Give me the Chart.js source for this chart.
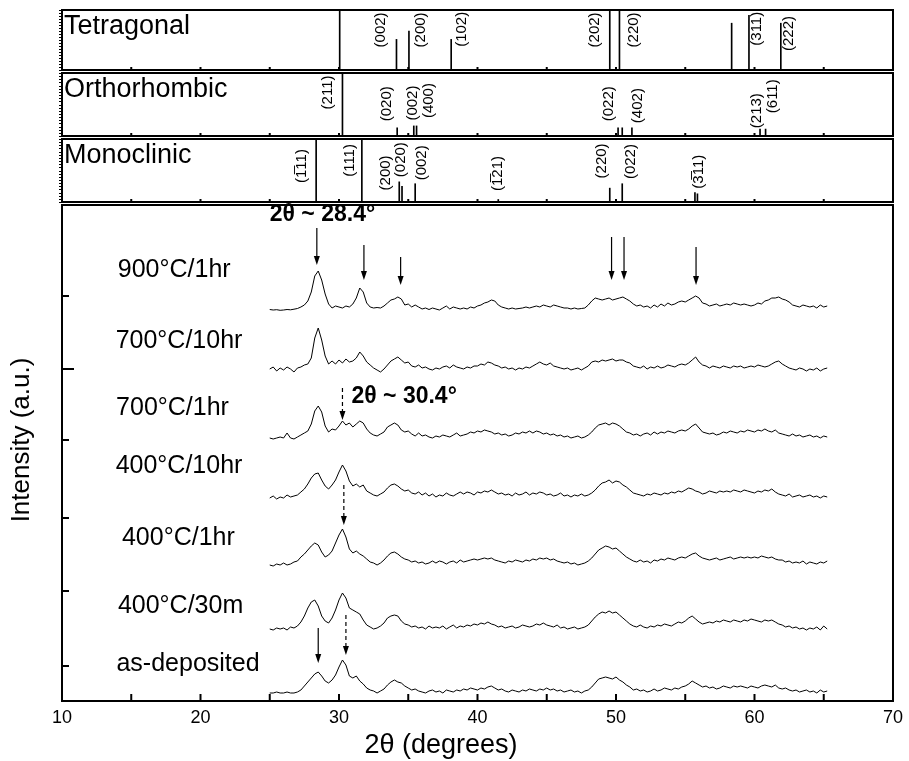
<!DOCTYPE html>
<html>
<head>
<meta charset="utf-8">
<script src="https://cdn.jsdelivr.net/npm/chart.js@4.4.1/dist/chart.umd.min.js"></script>
<style>
  html, body { margin: 0; padding: 0; background: #fff; }
  #wrap { position: relative; width: 909px; height: 761px; }
  #wrap canvas { position: absolute; left: 0; top: 0; }
</style>
</head>
<body>
<div id="wrap">
  <canvas id="tetra" width="909" height="761"></canvas>
  <canvas id="ortho" width="909" height="761"></canvas>
  <canvas id="mono" width="909" height="761"></canvas>
  <canvas id="xrd" width="909" height="761"></canvas>
</div>
<script>
  "use strict";

  // ---- reference patterns (2theta positions, relative intensity %) ----
  var tetraPos = [30.05, 34.15, 35.05, 38.1, 49.55, 50.25, 58.35, 59.6, 61.9];
  var tetraInt = [100, 51, 65, 51, 100, 98, 78, 91, 78];
  var tetraLabels = ["(002)", "(200)", "(102)", "(202)", "(220)", "(311)", "(222)"];
  var tetraLabelAt = [33.05, 35.9, 38.9, 48.5, 51.3, 60.2, 62.5];
  var tetraLabelTop = [96, 96, 97, 96, 96, 97, 90];

  var orthoPos = [30.25, 34.2, 35.4, 35.6, 50.15, 50.45, 51.15, 60.4, 60.8];
  var orthoInt = [100, 13, 16, 16, 13, 13, 13, 11, 11];
  var orthoLabels = ["(211)", "(020)", "(002)", "(400)", "(022)", "(402)", "(213)", "(611)"];
  var orthoLabelAt = [29.2, 33.45, 35.35, 36.5, 49.45, 51.6, 60.2, 61.35];
  var orthoLabelTop = [96, 79, 80, 84, 79, 76, 68, 90];

  var monoPos = [28.35, 31.65, 34.35, 34.55, 35.5, 41.5, 49.55, 50.45, 55.7, 55.88];
  var monoInt = [100, 100, 32, 25, 29, 4, 22, 29, 15, 13];
  var monoLabels = ["(1\u030511)", "(111)", "(200)", "(020)", "(002)", "(1\u030521)", "(220)", "(022)", "(3\u030511)"];
  var monoLabelAt = [27.3, 30.8, 33.4, 34.45, 35.95, 41.45, 49.0, 51.05, 56.0];
  var monoLabelTop = [84, 92, 74, 95, 90, 73, 93, 92, 75];

  // ---- measured XRD patterns, 25.00 .. 65.25 deg in 0.25 deg steps ----
  var scanStart = 25, scanStep = 0.25;
  var sampleNames = ["900\u00b0C/1hr", "700\u00b0C/10hr", "700\u00b0C/1hr", "400\u00b0C/10hr", "400\u00b0C/1hr", "400\u00b0C/30m", "as-deposited"];
  var sampleOffsets = [391, 331, 263, 203, 136, 71, 8];

  var int900c1h = [
    0.5, 0, 0.3, -0.3,  0, 0.5, 0.2, 0.8,  1.5, 3, 5, 9,  18, 34, 39, 30,
    16, 6, 2, 4,  3, 2, 4, 3,  6, 12, 22, 18,  7, 3, 2, 2.5,
    2, 4, 7, 10,  11, 13, 11, 5,  6, 3, 5, 3,  1, 2, 0.5, 2,
    1, 0, 2, 4,  1, 3, 2, 1,  2, 1, 3, 2,  4, 5, 7, 8,
    10, 9, 5, 3,  2, 1, 2, 1,  1.5, 2, 3, 2,  3, 4, 3, 5,
    4, 3, 5, 4,  3, 2, 2, 1,  2, 1, 1.5, 2,  5, 9, 12, 11,
    10, 11, 12, 10,  11, 12, 13, 11,  9, 6, 4, 5,  3, 4, 2, 5,
    3, 6, 4, 7,  5, 6, 8, 9,  8, 10, 12, 14,  12, 7, 6, 4,
    5, 6, 4, 5,  6, 5, 7, 6,  5, 6, 5, 4,  5, 7, 6, 9,
    10, 12, 12, 13,  11, 10, 8, 5,  4, 3, 5, 4,  3, 4, 2, 5,
    3, 4
  ];
  var int700c10h = [
    1, 3, -1, 2,  0, 3, 1, -2,  2, 3, 5, 6,  12, 32, 42, 30,
    14, 6, 9, 6,  10, 7, 11, 8,  9, 12, 18, 14,  8, 5, 2, 0,
    -2, 1, 5, 9,  11, 13, 10, 7,  8, 4, 3, 5,  2, 3, 1, 0,
    2, 1, 3, 4,  2, 5, 3, 2,  1, 3, 2, 4,  4, 6, 5, 8,
    7, 5, 4, 2,  3, 1, 2, 0,  2, 1, 3, 2,  4, 6, 8, 6,
    5, 7, 4, 3,  2, 1, 2, 0,  1, 2, 0, 2,  4, 8, 9, 8,
    10, 9, 10, 11,  9, 10, 10, 8,  7, 4, 3, 2,  4, 1, 3, 2,
    4, 2, 3, 5,  4, 3, 5, 6,  5, 7, 10, 13,  8, 5, 4, 2,
    4, 3, 2, 4,  3, 2, 4, 3,  4, 2, 3, 4,  3, 5, 4, 3,
    4, 6, 8, 9,  6, 4, 2, 1,  0, 2, 1, -1,  1, 0, 2, -1,
    1, 2
  ];
  var int700c1h = [
    0, -1, 0, 1,  0, 5, 0, -1,  1, 3, 5, 7,  14, 27, 32, 26,
    12, 6, 9, 8,  12, 17, 13, 15,  11, 14, 17, 15,  9, 5, 3, 2,
    4, 6, 11, 13,  15, 13, 8, 6,  7, 4, 2, 5,  2, 3, 1, 0,
    2, 1, 3, 2,  1, 3, 5, 2,  3, 4, 6, 5,  7, 6, 8, 7,
    6, 4, 5, 3,  4, 2, 3, 5,  4, 6, 5, 7,  5, 7, 6, 4,
    5, 3, 4, 2,  3, 1, 2, 0,  1, 2, 0, 1,  3, 6, 10, 13,
    14, 15, 13, 15,  14, 12, 9, 6,  5, 3, 4, 2,  4, 5, 3, 6,
    4, 6, 5, 7,  6, 5, 7, 8,  7, 9, 12, 14,  10, 6, 5, 4,
    5, 3, 4, 6,  5, 7, 6, 5,  7, 6, 8, 7,  6, 8, 7, 9,
    7, 6, 8, 5,  4, 3, 2, 4,  2, 3, 1, 2,  3, 1, 2, 0,
    2, 1
  ];
  var int400c10h = [
    0, 2, -1, 1,  0, 3, 1, 2,  3, 6, 9, 14,  20, 24, 25, 18,
    12, 9, 13, 18,  26, 33, 27, 17,  12, 14, 11, 13,  7, 5, 3, 2,
    4, 6, 10, 13,  14, 12, 9, 7,  8, 5, 4, 6,  3, 5, 2, 4,
    1, 3, 2, 5,  3, 2, 4, 6,  4, 6, 5, 3,  6, 5, 7, 6,
    8, 6, 4, 5,  3, 4, 2, 5,  3, 4, 6, 3,  5, 4, 6, 5,
    3, 4, 2, 3,  5, 2, 3, 1,  3, 2, 4, 2,  3, 5, 8, 12,
    15, 16, 18, 15,  17, 16, 13, 11,  8, 5, 4, 3,  2, 4, 3, 5,
    4, 3, 5, 4,  6, 5, 7, 6,  8, 10, 9, 7,  6, 4, 5, 7,
    6, 5, 7, 6,  7, 6, 8, 7,  6, 8, 7, 6,  5, 7, 6, 8,
    7, 9, 6, 4,  3, 2, 4, 1,  2, 3, 1, 2,  3, 1, 2, 0,
    2, 1
  ];
  var int400c1h = [
    0, -1, 1, 0,  2, 0, 1, 3,  4, 8, 11, 15,  19, 22, 20, 13,
    8, 10, 14, 22,  30, 36, 28, 16,  12, 14, 11, 9,  6, 3, 2, 0,
    2, 5, 9, 12,  13, 11, 8, 6,  5, 3, 4, 2,  3, 1, 2, 4,
    2, 4, 3, 1,  3, 4, 2, 5,  3, 4, 5, 6,  5, 6, 7, 6,
    7, 5, 4, 3,  2, 4, 3, 5,  4, 3, 5, 4,  6, 5, 7, 6,
    7, 5, 6, 4,  3, 2, 3, 1,  2, 0, 1, 2,  4, 7, 11, 15,
    17, 19, 18, 16,  17, 14, 11, 8,  6, 4, 3, 5,  3, 4, 2, 5,
    4, 6, 5, 7,  6, 5, 7, 8,  7, 9, 11, 12,  9, 7, 6, 5,
    6, 7, 5, 6,  7, 8, 6, 7,  8, 7, 8, 7,  8, 7, 9, 8,
    7, 8, 6, 5,  5, 3, 4, 2,  3, 2, 4, 1,  3, 2, 1, 3,
    2, 4
  ];
  var int400c30m = [
    1, 0, 2, 1,  2, 0, 3, 2,  4, 8, 14, 22,  28, 30, 24, 14,
    9, 7, 12, 20,  30, 37, 32, 22,  20, 18, 16, 10,  5, 3, 1, 2,
    4, 7, 12, 14,  15, 14, 9, 6,  5, 3, 4, 2,  3, 1, 4, 2,
    3, 2, 4, 1,  3, 5, 2, 4,  3, 5, 4, 6,  5, 7, 6, 8,
    6, 5, 3, 4,  2, 3, 4, 2,  3, 5, 4, 3,  4, 6, 5, 7,
    5, 4, 3, 5,  2, 3, 1, 2,  3, 1, 2, 3,  5, 9, 13, 16,
    18, 17, 19, 17,  18, 15, 12, 9,  6, 4, 3, 5,  3, 2, 4, 3,
    5, 4, 6, 5,  4, 6, 8, 7,  9, 12, 14, 11,  8, 6, 7, 8,
    7, 9, 8, 10,  9, 8, 10, 9,  8, 10, 9, 11,  10, 9, 8, 10,
    9, 10, 8, 6,  5, 3, 4, 2,  3, 1, 2, 0,  2, 1, 3, 0,
    4, 1
  ];
  var intAsDep = [
    0, 0, 1, 0,  0, 1, 0, 0,  1, 3, 7, 11,  15, 19, 21, 17,
    12, 10, 13, 18,  26, 33, 28, 17,  15, 17, 12, 9,  5, 3, 2, 0,
    2, 4, 8, 11,  13, 11, 10, 7,  5, 3, 4, 2,  1, 0, 2, 3,
    1, 2, 0, 3,  2, 1, 3, 2,  4, 3, 5, 4,  3, 5, 4, 6,
    7, 5, 3, 4,  2, 1, 3, 2,  1, 3, 2, 4,  3, 2, 4, 3,
    5, 3, 4, 2,  3, 1, 2, 3,  1, 2, 0, 2,  3, 6, 10, 14,
    15, 16, 15, 14,  16, 13, 11, 8,  6, 3, 4, 2,  3, 1, 2, 4,
    2, 3, 5, 4,  3, 5, 4, 6,  7, 9, 12, 10,  8, 6, 7, 5,
    6, 4, 5, 7,  6, 5, 7, 6,  7, 6, 5, 7,  6, 5, 7, 8,
    7, 6, 8, 5,  4, 5, 3, 2,  3, 1, 2, 3,  1, 2, 0, 3,
    1, 2
  ];
  var sampleSeries = [int900c1h, int700c10h, int700c1h, int400c10h, int400c1h, int400c30m, intAsDep];

  // ---- annotations: peak markers (2theta, from / to in a.u.) ----
  var arrowAt = [28.4, 31.8, 34.45, 49.68, 50.58, 55.78, 30.25, 30.35, 28.5, 30.5];
  var arrowFrom = [473, 456, 444, 464, 464, 454, 313, 216, 73, 86];
  var arrowTo = [436, 421, 416, 421, 421, 416, 281, 176, 38, 46];
  var arrowDashed = [false, false, false, false, false, false, true, true, false, true];
  var peakNotes = ["2\u03b8 ~ 28.4\u00b0", "2\u03b8 ~ 30.4\u00b0"];

  // layout of the text (data coordinates)
  var notePos = [[25.0, 486], [30.9, 304]];
  var nameX = [18.1, 18.45, 17.98, 18.45, 18.4, 18.56, 19.1];
  var nameY = [431, 360, 293, 235, 163, 95, 37];
  var yTickVals = [405, 332, 261, 183, 110, 35];

  var FONT = "'Liberation Sans', Arial, sans-serif";
  var W = 909, H = 761, LEFT = 62, RIGHT = 893;

  function panelDeco(name, labels, labelAt, labelTop) {
    return {
      id: 'panelDeco',
      afterDraw: function (chart) {
        var ctx = chart.ctx, a = chart.chartArea, xs = chart.scales.x, ys = chart.scales.y;
        ctx.save();
        ctx.strokeStyle = '#000';
        ctx.fillStyle = '#000';
        // dotted left axis
        ctx.lineWidth = 1;
        for (var v = 0; v <= 100; v += 5) {
          var py = Math.round(ys.getPixelForValue(v)) + 0.5;
          ctx.beginPath(); ctx.moveTo(a.left - 3, py); ctx.lineTo(a.left, py); ctx.stroke();
        }
        // bottom ticks every 5 deg
        ctx.lineWidth = 2;
        for (var t = 15; t <= 65; t += 5) {
          var px = xs.getPixelForValue(t);
          ctx.beginPath(); ctx.moveTo(px, a.bottom); ctx.lineTo(px, a.bottom - 3); ctx.stroke();
        }
        ctx.strokeRect(a.left, a.top, a.right - a.left, a.bottom - a.top);
        // phase name
        ctx.font = '27px ' + FONT;
        ctx.textAlign = 'left';
        ctx.textBaseline = 'top';
        ctx.fillText(name, a.left + 2, a.top + 3);
        // Miller indices, rotated
        ctx.font = '15px ' + FONT;
        ctx.textAlign = 'right';
        ctx.textBaseline = 'middle';
        for (var i = 0; i < labels.length; i++) {
          ctx.save();
          ctx.translate(xs.getPixelForValue(labelAt[i]), ys.getPixelForValue(labelTop[i]));
          ctx.rotate(-Math.PI / 2);
          ctx.fillText(labels[i], 0, 0);
          ctx.restore();
        }
        ctx.restore();
      }
    };
  }

  function stickPanel(canvasId, pos, ints, name, labels, labelAt, labelTop, top, bottom) {
    var pts = [];
    for (var i = 0; i < pos.length; i++) pts.push({ x: pos[i], y: ints[i] });
    return new Chart(document.getElementById(canvasId), {
      type: 'bar',
      data: {
        datasets: [{
          data: pts,
          backgroundColor: '#000',
          borderWidth: 0,
          barThickness: 1
        }]
      },
      options: {
        responsive: false,
        animation: false,
        layout: { padding: { left: LEFT, right: W - RIGHT, top: top, bottom: H - bottom } },
        plugins: { legend: { display: false }, tooltip: { enabled: false } },
        scales: {
          x: { type: 'linear', min: 10, max: 70, display: false, offset: false },
          y: { type: 'linear', min: 0, max: 100, display: false }
        }
      },
      plugins: [panelDeco(name, labels, labelAt, labelTop)]
    });
  }

  stickPanel('tetra', tetraPos, tetraInt, 'Tetragonal', tetraLabels, tetraLabelAt, tetraLabelTop, 10, 70);
  stickPanel('ortho', orthoPos, orthoInt, 'Orthorhombic', orthoLabels, orthoLabelAt, orthoLabelTop, 73, 136);
  stickPanel('mono', monoPos, monoInt, 'Monoclinic', monoLabels, monoLabelAt, monoLabelTop, 139, 202);

  // ---- main XRD chart ----
  var xrdSets = [];
  for (var s = 0; s < sampleSeries.length; s++) {
    var pts = [];
    for (var k = 0; k < sampleSeries[s].length; k++) {
      pts.push({ x: scanStart + k * scanStep, y: sampleSeries[s][k] + sampleOffsets[s] });
    }
    xrdSets.push({
      label: sampleNames[s],
      data: pts,
      borderColor: '#000',
      borderWidth: 1,
      pointRadius: 0,
      tension: 0,
      fill: false
    });
  }

  function drawArrow(ctx, x, y0, y1, dashed) {
    var dir = y1 > y0 ? 1 : -1, head = 9;
    ctx.save();
    ctx.lineWidth = 1.2;
    if (dashed) ctx.setLineDash([4, 3]);
    ctx.beginPath(); ctx.moveTo(x, y0); ctx.lineTo(x, y1 - dir * head); ctx.stroke();
    ctx.setLineDash([]);
    ctx.beginPath();
    ctx.moveTo(x, y1);
    ctx.lineTo(x - 3, y1 - dir * head);
    ctx.lineTo(x + 3, y1 - dir * head);
    ctx.closePath(); ctx.fill();
    ctx.restore();
  }

  var xrdDeco = {
    id: 'xrdDeco',
    afterDraw: function (chart) {
      var ctx = chart.ctx, a = chart.chartArea, xs = chart.scales.x, ys = chart.scales.y;
      ctx.save();
      ctx.strokeStyle = '#000';
      ctx.fillStyle = '#000';
      ctx.lineWidth = 2;
      ctx.strokeRect(a.left, a.top, a.right - a.left, a.bottom - a.top);
      for (var t = 10; t <= 70; t += 5) {
        var px = xs.getPixelForValue(t);
        ctx.beginPath(); ctx.moveTo(px, a.bottom); ctx.lineTo(px, a.bottom - 7); ctx.stroke();
      }
      for (var j = 0; j < yTickVals.length; j++) {
        var py = ys.getPixelForValue(yTickVals[j]);
        ctx.beginPath(); ctx.moveTo(a.left, py); ctx.lineTo(a.left + (j === 1 ? 12 : 7), py); ctx.stroke();
      }
      // sample names
      ctx.font = '25px ' + FONT;
      ctx.textAlign = 'center';
      ctx.textBaseline = 'middle';
      for (var i = 0; i < sampleNames.length; i++) {
        ctx.fillText(sampleNames[i], xs.getPixelForValue(nameX[i]), ys.getPixelForValue(nameY[i]));
      }
      // arrows
      for (var m = 0; m < arrowAt.length; m++) {
        drawArrow(ctx, xs.getPixelForValue(arrowAt[m]), ys.getPixelForValue(arrowFrom[m]),
          ys.getPixelForValue(arrowTo[m]), arrowDashed[m]);
      }
      ctx.font = 'bold 23px ' + FONT;
      ctx.textAlign = 'left';
      for (var n = 0; n < peakNotes.length; n++) {
        ctx.fillText(peakNotes[n], xs.getPixelForValue(notePos[n][0]), ys.getPixelForValue(notePos[n][1]));
      }
      // axis titles
      ctx.font = '27px ' + FONT;
      ctx.textAlign = 'center';
      ctx.fillText('2\u03b8 (degrees)', 441, 746);
      ctx.font = '26px ' + FONT;
      ctx.save();
      ctx.translate(22, 440);
      ctx.rotate(-Math.PI / 2);
      ctx.fillText('Intensity (a.u.)', 0, 0);
      ctx.restore();
      ctx.restore();
    }
  };

  new Chart(document.getElementById('xrd'), {
    type: 'line',
    data: { datasets: xrdSets },
    options: {
      responsive: false,
      animation: false,
      layout: { padding: { left: 0, right: W - RIGHT, top: 205, bottom: 0 } },
      plugins: { legend: { display: false }, tooltip: { enabled: false } },
      scales: {
        x: {
          type: 'linear', min: 10, max: 70,
          grid: { display: false, drawTicks: false },
          border: { display: false },
          ticks: { stepSize: 10, color: '#000', padding: 6, font: { size: 18, family: FONT } },
          afterFit: function (scale) { scale.height = H - 701; }
        },
        y: {
          type: 'linear', min: 0, max: 496,
          grid: { display: false, drawTicks: false },
          border: { display: false },
          ticks: { display: false },
          afterFit: function (scale) { scale.width = LEFT; }
        }
      }
    },
    plugins: [xrdDeco]
  });
</script>
</body>
</html>
